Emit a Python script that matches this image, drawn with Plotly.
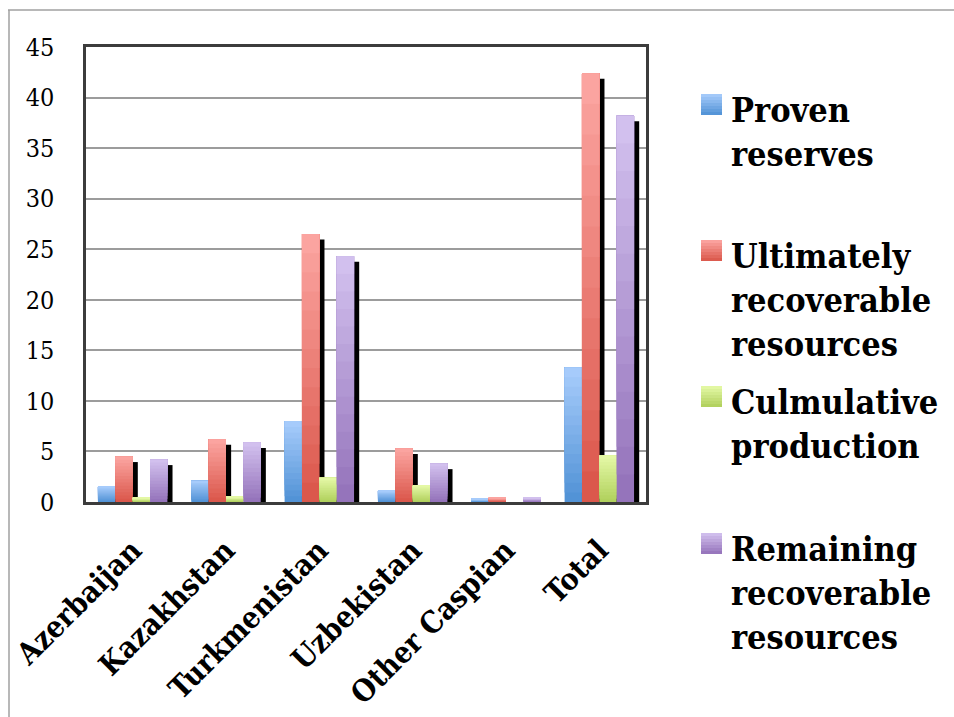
import plotly.graph_objects as go

# ---- data (billion barrels) ----
categories = ["Azerbaijan", "Kazakhstan", "Turkmenistan", "Uzbekistan", "Other Caspian", "Total"]
proven_reserves = [1.5, 2.1, 8.0, 1.1, 0.3, 13.3]
ultimately_recoverable = [4.5, 6.2, 26.5, 5.3, 0.4, 42.4]
cumulative_production = [0.4, 0.5, 2.4, 1.6, 0.0, 4.6]
remaining_recoverable = [4.2, 5.9, 24.3, 3.8, 0.4, 38.2]
y_ticks = [0, 5, 10, 15, 20, 25, 30, 35, 40, 45]

series = [
    ("Proven<br>reserves", proven_reserves, "#4f91d5", "#a9cdfc"),
    ("Ultimately<br>recoverable<br>resources", ultimately_recoverable, "#da5549", "#fca7a3"),
    ("Culmulative<br>production", cumulative_production, "#afcf5b", "#e6faa8"),
    ("Remaining<br>recoverable<br>resources", remaining_recoverable, "#9371b9", "#d4c3f0"),
]

# ---- layout constants (pixels) ----
W, H = 954, 717
L, R, T, B = 86, 646, 47, 502
BAR_W = 0.186          # bar width in category units
N_BANDS = 14           # vertical gradient steps per bar
SHADOW_DX = 0.055      # shadow shift right (category units)
SHADOW_DY = 0.55       # shadow drop (value units)
FONT = "DejaVu Serif Condensed"


def px_x(px):
    return (px - L) / (R - L)


def px_y(py):
    return (B - py) / (B - T)


def mix(c0, c1, t):
    a = [int(c0[i:i + 2], 16) for i in (1, 3, 5)]
    b = [int(c1[i:i + 2], 16) for i in (1, 3, 5)]
    return "rgb(%d,%d,%d)" % tuple(round(a[i] + (b[i] - a[i]) * t) for i in range(3))


fig = go.Figure()
offsets = [(-2 + i) * BAR_W for i in range(len(series))]

# drop shadows behind the bars
for (name, vals, dark, light), off in zip(series, offsets):
    fig.add_trace(go.Bar(
        x=categories, y=[max(v - SHADOW_DY, 0) for v in vals],
        offset=off + SHADOW_DX, width=BAR_W,
        marker=dict(color="#000000", line=dict(width=0)),
        showlegend=False, hoverinfo="skip",
    ))

# bars: each layer runs from a rising base up to the full value, so the
# overlapping layers form a vertical gradient without gaps between them
for (name, vals, dark, light), off in zip(series, offsets):
    for k in range(N_BANDS):
        frac = k / N_BANDS
        fig.add_trace(go.Bar(
            x=categories,
            y=[v * (1 - frac) for v in vals],
            base=[v * frac for v in vals],
            offset=off, width=BAR_W,
            marker=dict(color=mix(dark, light, (k + 0.5) / N_BANDS), line=dict(width=0)),
            showlegend=False, hoverinfo="skip",
        ))

shapes = []
annotations = []

# outer frame lines
shapes.append(dict(type="line", xref="paper", yref="paper",
                   x0=px_x(8), x1=px_x(960), y0=px_y(10), y1=px_y(10),
                   line=dict(color="#a0a0a0", width=1.5)))
shapes.append(dict(type="line", xref="paper", yref="paper",
                   x0=px_x(9), x1=px_x(9), y0=px_y(10), y1=px_y(720),
                   line=dict(color="#a0a0a0", width=1.5)))

# legend
sw_tops = [94, 240, 386, 533]
SW = 21
for (name, vals, dark, light), top in zip(series, sw_tops):
    steps = 7
    for k in range(steps):
        y_hi = top + SW * k / steps
        shapes.append(dict(type="rect", xref="paper", yref="paper",
                           x0=px_x(701), x1=px_x(722), y0=px_y(top + SW), y1=px_y(y_hi),
                           fillcolor=mix(light, dark, (k + 0.5) / steps), line=dict(width=0)))
    annotations.append(dict(
        xref="paper", yref="paper", x=px_x(729), y=px_y(top - 6),
        xanchor="left", yanchor="top", align="left", showarrow=False,
        text=name, font=dict(family=FONT, size=34, color="#000000", weight="bold"),
    ))

fig.update_layout(
    width=W, height=H,
    margin=dict(l=L, r=W - R, t=T, b=H - B, pad=0, autoexpand=False),
    paper_bgcolor="white", plot_bgcolor="white",
    barmode="overlay",
    showlegend=False,
    shapes=shapes, annotations=annotations,
    xaxis=dict(
        type="category", showgrid=False, ticks="", automargin=False,
        tickangle=-45,
        tickfont=dict(family=FONT, size=30, color="#000000", weight="bold"),
        showline=True, linecolor="#3c3c3c", linewidth=2.5, mirror=True,
        ticklabelstandoff=16,
    ),
    yaxis=dict(
        range=[0, 45], tickvals=y_ticks, ticktext=[str(v) for v in y_ticks],
        showgrid=True, gridcolor="#9c9c9c", gridwidth=1.5, automargin=False,
        zeroline=False, ticks="",
        tickfont=dict(family=FONT, size=25, color="#000000"),
        showline=True, linecolor="#3c3c3c", linewidth=2.5, mirror=True,
        ticklabelstandoff=24,
    ),
)

fig.write_html("out.html")
